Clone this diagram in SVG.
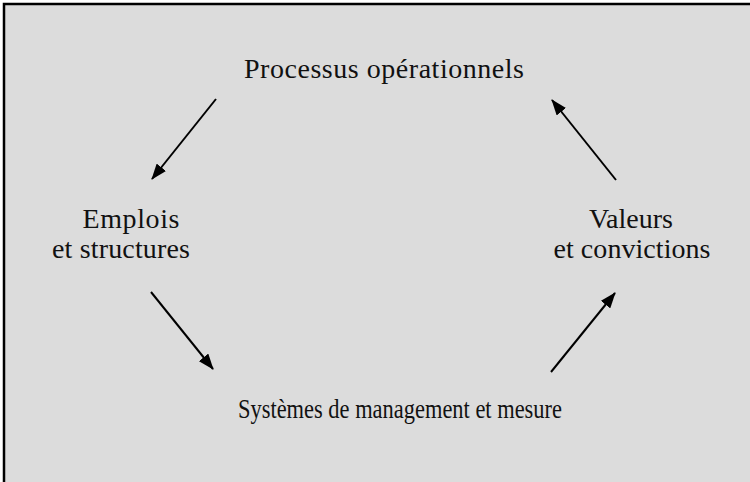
<svg xmlns="http://www.w3.org/2000/svg" width="750" height="482" viewBox="0 0 750 482">
<defs>
<style>
.lbl{font-family:"Liberation Serif","DejaVu Serif",serif;font-size:28px;fill:#111;text-anchor:middle}
.conn{stroke:#000;stroke-width:2;fill:none}
</style>
<marker id="ah" viewBox="0 0 16 12" refX="15" refY="6" markerWidth="16" markerHeight="12" markerUnits="userSpaceOnUse" orient="auto">
<path d="M0,0 L16,6 L0,12 Z" fill="#000"/>
</marker>
</defs>
<rect x="0" y="0" width="750" height="482" fill="#ffffff"/>
<rect x="4" y="4" width="760" height="500" fill="#dcdcdc" stroke="#000" stroke-width="2.5"/>
<g id="node-processus"><text class="lbl" x="384" y="78" textLength="280">Processus opérationnels</text></g>
<g id="node-emplois"><text class="lbl" x="131" y="228" textLength="97">Emplois</text><text class="lbl" x="121" y="258" textLength="138">et structures</text></g>
<g id="node-valeurs"><text class="lbl" x="631" y="228" textLength="84">Valeurs</text><text class="lbl" x="632" y="258" textLength="157">et convictions</text></g>
<g id="node-systemes"><text class="lbl" x="400" y="418" style="font-size:27px" textLength="324" lengthAdjust="spacingAndGlyphs">Systèmes de management et mesure</text></g>
<g id="connectors">
<line class="conn" x1="216" y1="99" x2="152" y2="179" marker-end="url(#ah)"/>
<line class="conn" x1="151" y1="292" x2="213" y2="369" marker-end="url(#ah)"/>
<line class="conn" x1="551" y1="372" x2="615" y2="293" marker-end="url(#ah)"/>
<line class="conn" x1="616" y1="180" x2="552" y2="100" marker-end="url(#ah)"/>
</g>
</svg>
